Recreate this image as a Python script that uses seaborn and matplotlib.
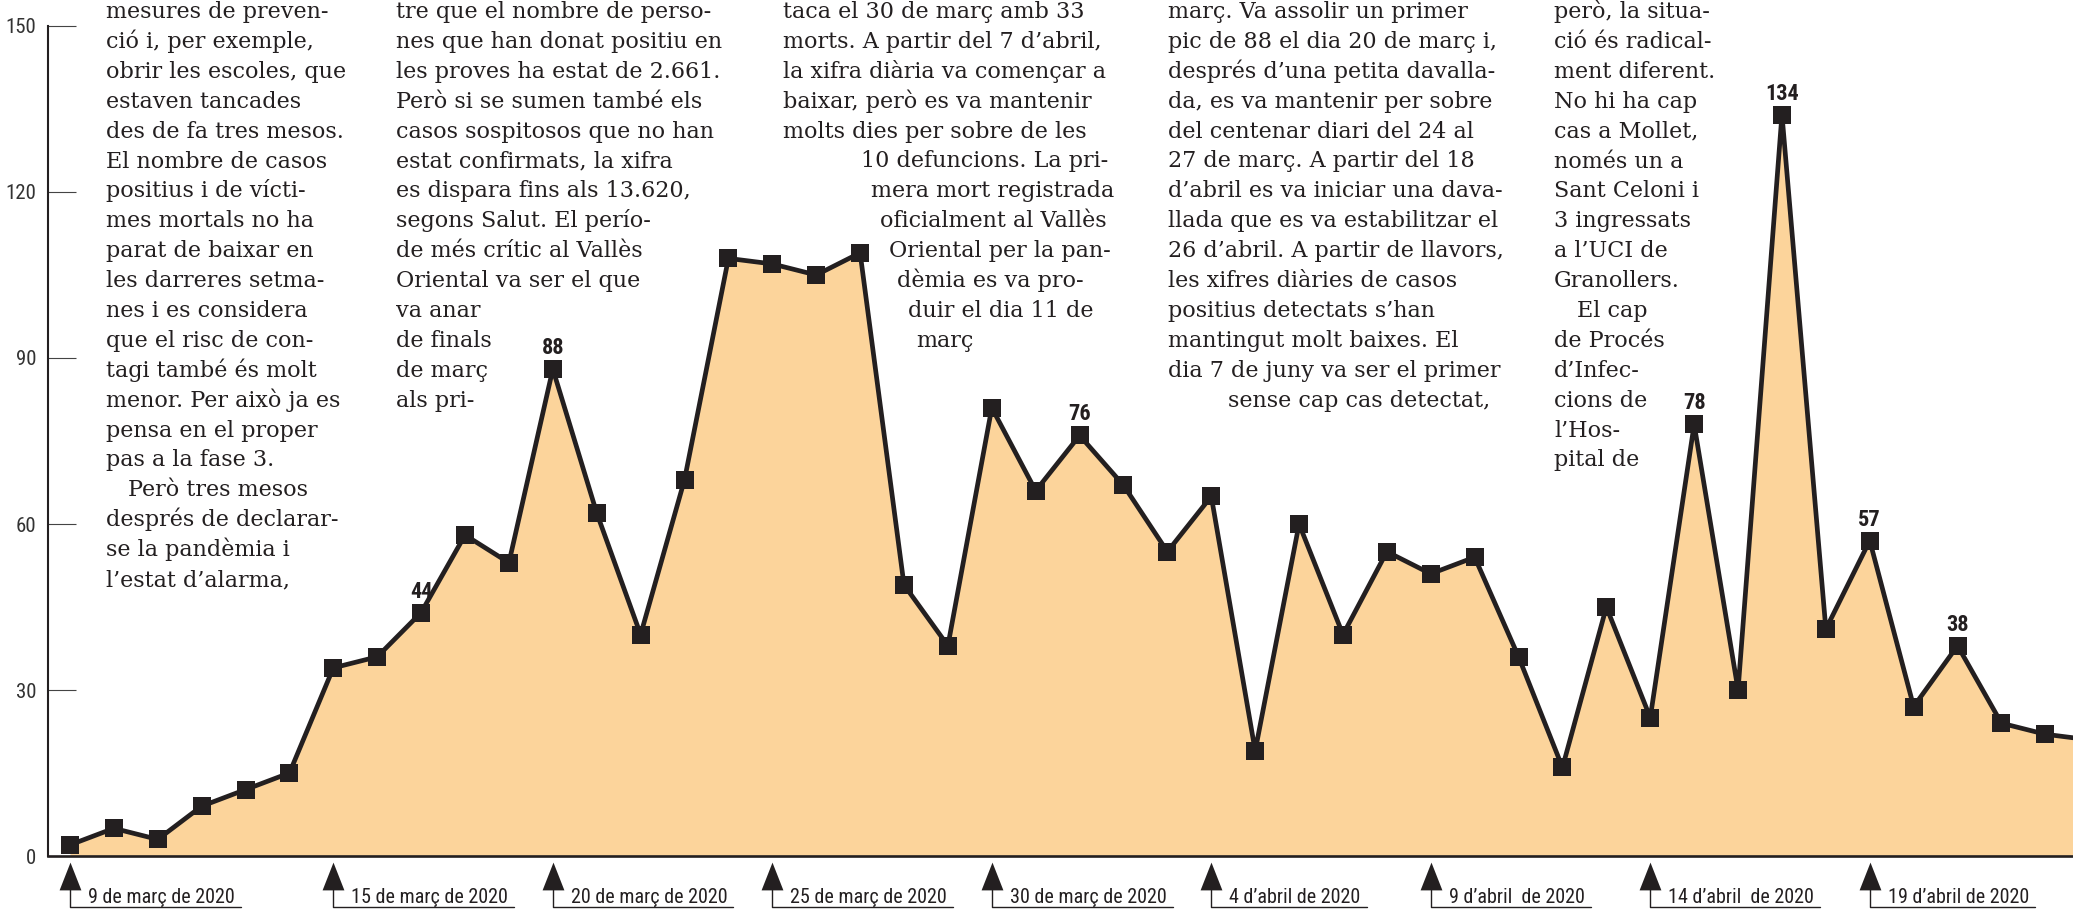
import numpy as np
import pandas as pd
import seaborn as sns
import matplotlib.pyplot as plt
from matplotlib import font_manager

# casos positius diaris (9 de març -> 25 d'abril de 2020)
dies = list(range(47))
casos = [2, 5, 3, 9, 12, 15, 34, 36, 44, 58, 53, 88, 62, 40, 68, 108, 107, 105, 109,
         49, 38, 81, 66, 76, 67, 55, 65, 19, 60, 40, 55, 51, 54, 36, 16, 45, 25, 78,
         30, 134, 41, 57, 27, 38, 24, 22, 21]
dies_destacats = [8, 11, 23, 37, 39, 41, 43]
dies_data = [0, 6, 11, 16, 21, 26, 31, 36, 41]
etiquetes_data = ["9 de març de 2020", "15 de març de 2020", "20 de març de 2020",
                  "25 de març de 2020", "30 de març de 2020", "4 d’abril de 2020",
                  "9 d’abril  de 2020", "14 d’abril  de 2020", "19 d’abril de 2020"]
y_ticks = [0, 30, 60, 90, 120, 150]

col1 = ["mesures de preven-", "ció i, per exemple,", "obrir les escoles, que",
        "estaven tancades", "des de fa tres mesos.", "El nombre de casos",
        "positius i de vícti-", "mes mortals no ha", "parat de baixar en",
        "les darreres setma-", "nes i es considera", "que el risc de con-",
        "tagi també és molt", "menor. Per això ja es", "pensa en el proper",
        "pas a la fase 3.", "Però tres mesos", "després de declarar-",
        "se la pandèmia i", "l’estat d’alarma,"]
col2 = ["tre que el nombre de perso-", "nes que han donat positiu en",
        "les proves ha estat de 2.661.", "Però si se sumen també els",
        "casos sospitosos que no han", "estat confirmats, la xifra",
        "es dispara fins als 13.620,", "segons Salut. El perío-",
        "de més crític al Vallès", "Oriental va ser el que", "va anar",
        "de finals", "de març", "als pri-"]
col3 = ["taca el 30 de març amb 33", "morts. A partir del 7 d’abril,",
        "la xifra diària va començar a", "baixar, però es va mantenir",
        "molts dies per sobre de les", "10 defuncions. La pri-",
        "mera mort registrada", "oficialment al Vallès", "Oriental per la pan-",
        "dèmia es va pro-", "duir el dia 11 de", "març"]
col4 = ["març. Va assolir un primer", "pic de 88 el dia 20 de març i,",
        "després d’una petita davalla-", "da, es va mantenir per sobre",
        "del centenar diari del 24 al", "27 de març. A partir del 18",
        "d’abril es va iniciar una dava-", "llada que es va estabilitzar el",
        "26 d’abril. A partir de llavors,", "les xifres diàries de casos",
        "positius detectats s’han", "mantingut molt baixes. El",
        "dia 7 de juny va ser el primer", "sense cap cas detectat,"]
col5 = ["però, la situa-", "ció és radical-", "ment diferent.", "No hi ha cap",
        "cas a Mollet,", "només un a", "Sant Celoni i", "3 ingressats",
        "a l’UCI de", "Granollers.", "El cap", "de Procés", "d’Infec-",
        "cions de", "l’Hos-", "pital de"]

df = pd.DataFrame({"dia": dies, "casos": casos})

sns.set_style("white")
names = {f.name for f in font_manager.fontManager.ttflist}
narrow = next((n for n in ["Liberation Sans Narrow", "Roboto Condensed", "DejaVu Sans"]
               if n in names), "DejaVu Sans")
serif = "DejaVu Serif"
INK = "#231f20"
FILL = "#fcd49b"

W, H = 2073, 910
fig = plt.figure(figsize=(W / 100, H / 100), dpi=100)
ax = fig.add_axes([48 / W, 1 - 856 / H, (W - 48) / W, (856 - 26) / H])

ax.fill_between(df["dia"], df["casos"], 0, color=FILL, lw=0, zorder=1)
sns.lineplot(data=df, x="dia", y="casos", ax=ax, color=INK, lw=3.4, marker="s",
             markersize=12.5, markeredgecolor=INK, markeredgewidth=0, zorder=3,
             clip_on=False)

ax.set_xlim(-0.5, 45.63)
ax.set_ylim(0, 150)
ax.set_xlabel("")
ax.set_ylabel("")
for s in ["top", "right"]:
    ax.spines[s].set_visible(False)
ax.spines["left"].set_linewidth(1.5)
ax.spines["bottom"].set_linewidth(1.9)
ax.spines["left"].set_color(INK)
ax.spines["bottom"].set_color(INK)

ax.set_yticks(y_ticks)
ax.set_yticklabels([str(v) for v in y_ticks], fontfamily=narrow, fontsize=15, color="#333333")
ax.tick_params(axis="y", direction="in", length=20, width=0.8, color="#444444", pad=8.5,
               left=True)
ax.yaxis.get_major_ticks()[0].tick1line.set_visible(False)
ax.set_xticks(np.arange(0.5, 46, 1))
ax.set_xticklabels([])
ax.tick_params(axis="x", direction="in", length=14.5, width=1.1, color=INK, bottom=True)

# valors destacats
for d in dies_destacats:
    ax.annotate(str(casos[d]), xy=(d, casos[d]), xytext=(0, 15), textcoords="offset pixels",
                ha="center", va="baseline", fontsize=16, fontweight="bold",
                fontfamily=narrow, color=INK, zorder=5)

# fletxes de data a sota de l'eix
fig.canvas.draw()
rend = fig.canvas.get_renderer()
tri = [(-11, -14), (11, -14), (0, 14)]
for d, lab in zip(dies_data, etiquetes_data):
    xp = ax.transData.transform((d, 0))[0]
    fig.add_artist(plt.Line2D([xp / W], [1 - 876 / H], marker=tri, markersize=20,
                              color=INK, markeredgewidth=0, transform=fig.transFigure))
    t = fig.text((xp + 18) / W, 1 - 903 / H, lab, fontsize=14.5, fontfamily=narrow,
                 color=INK, va="baseline", ha="left")
    x_end = t.get_window_extent(rend).x1 + 6
    fig.add_artist(plt.Line2D([xp / W, xp / W, x_end / W],
                              [1 - 889 / H, 1 - 907 / H, 1 - 907 / H],
                              color=INK, lw=1.0, transform=fig.transFigure))

# text de l'article en columnes
step, y0 = 29.9, 18
def columna(lines, xs):
    for i, (txt, x) in enumerate(zip(lines, xs)):
        fig.text(x / W, 1 - (y0 + i * step) / H, txt, fontsize=16, fontfamily=serif,
                 color=INK, va="baseline", ha="left")

columna(col1, [106] * 16 + [128] + [106] * 3)
columna(col2, [396] * len(col2))
columna(col3, [783] * 5 + [861, 871, 880, 889, 897, 908, 916])
columna(col4, [1168] * 13 + [1228])
columna(col5, [1554] * 10 + [1577] + [1554] * 5)

fig.savefig("out.png", dpi=100)
